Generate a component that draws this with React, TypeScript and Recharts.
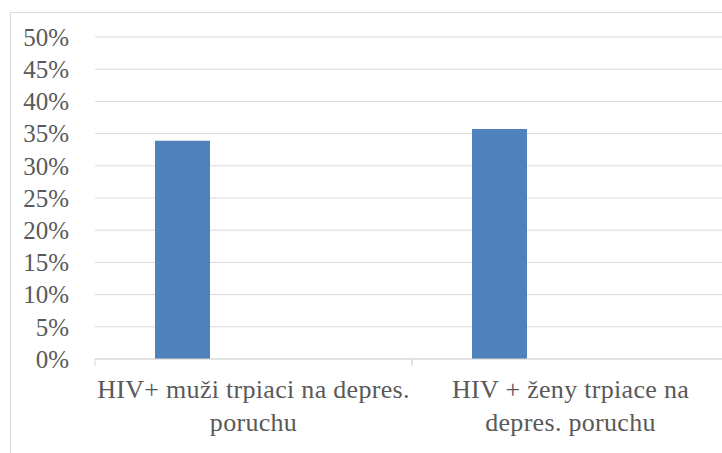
import React from "react";
import { BarChart, Bar, XAxis, YAxis, CartesianGrid } from "recharts";

const categories = ["HIV+ muži trpiaci na depres. poruchu", "HIV + ženy trpiace na depres. poruchu"];
const categoryLabelLines = [
  ["HIV+ muži trpiaci na depres.", "poruchu"],
  ["HIV + ženy trpiace na", "depres. poruchu"],
];
const depressionShare = [33.9, 35.7];
const secondSeries: (number | null)[] = [null, null];
const yTicks = [0, 5, 10, 15, 20, 25, 30, 35, 40, 45, 50];

const data = categories.map((c, i) => ({
  name: c,
  value: depressionShare[i],
  other: secondSeries[i],
}));

const FONT = "'Liberation Serif', 'Times New Roman', serif";
const TEXT = "#595959";
const GRID = "#d9d9d9";

const XTick = (props: any) => {
  const { x, y, payload, index } = props;
  const idx = payload?.index ?? index ?? 0;
  const lines = categoryLabelLines[idx] || [String(payload?.value)];
  const off = payload?.offset ?? 158.5;
  return (
    <g>
      <line x1={x - off} x2={x - off} y1={y} y2={y + 7} stroke={GRID} strokeWidth={1} />
      <line x1={x + off} x2={x + off} y1={y} y2={y + 7} stroke={GRID} strokeWidth={1} />
      <text
        x={x}
        y={y}
        textAnchor="middle"
        fill={TEXT}
        fontSize={26}
        letterSpacing={0.3}
        fontFamily={FONT}
      >
        {lines.map((l, i) => (
          <tspan key={i} x={x} y={y + 39 + i * 33}>
            {l}
          </tspan>
        ))}
      </text>
    </g>
  );
};

export default function App() {
  return (
    <div
      style={{
        position: "absolute",
        left: 0,
        top: 0,
        width: 722,
        height: 453,
        overflow: "hidden",
        background: "#fff",
      }}
    >
      <div
        style={{
          position: "absolute",
          left: 10,
          top: 12,
          width: 760,
          height: 480,
          border: `1px solid ${GRID}`,
          boxSizing: "border-box",
        }}
      >
        <BarChart
          width={740}
          height={460}
          data={data}
          margin={{ top: 24, right: 22, left: 0, bottom: 0 }}
          barSize={55}
          barGap={87}
        >
          <CartesianGrid vertical={false} stroke={GRID} strokeWidth={1} />
          <XAxis
            dataKey="name"
            height={114}
            axisLine={{ stroke: GRID, strokeWidth: 1 }}
            tickLine={false}
            tickSize={0}
            tickMargin={0}
            interval={0}
            tick={<XTick />}
          />
          <YAxis
            width={84}
            domain={[0, 50]}
            ticks={yTicks}
            axisLine={false}
            tickLine={false}
            tickSize={0}
            tickMargin={26}
            interval={0}
            tickFormatter={(v: number) => `${v}%`}
            tick={{ fill: TEXT, fontSize: 25, fontFamily: FONT }}
          />
          <Bar dataKey="value" fill="#4f81bd" isAnimationActive={false} />
          <Bar dataKey="other" fill="#c0504d" isAnimationActive={false} />
        </BarChart>
      </div>
    </div>
  );
}
